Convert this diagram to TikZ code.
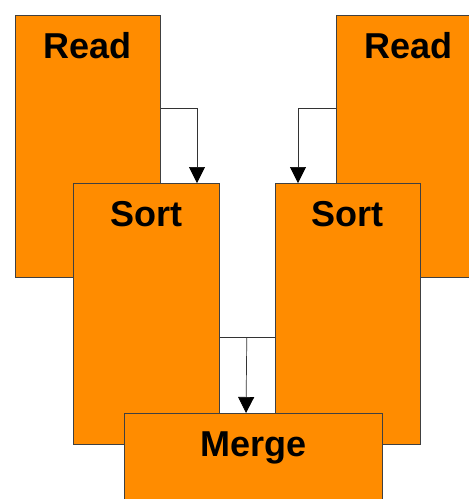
\documentclass[tikz,border=0pt]{standalone}
\usepackage{fontspec}
\setmainfont{Liberation Sans}
\usetikzlibrary{arrows.meta}
\definecolor{boxorange}{RGB}{255,140,0}
\tikzset{
  box/.style={draw=black!75, line width=0.8pt, fill=boxorange, anchor=north west, inner sep=0pt},
  lbl/.style={anchor=base, inner sep=0pt, font=\fontsize{36}{40}\selectfont\bfseries},
  conn/.style={draw=black!80, line width=0.7pt, -{Triangle[width=16pt,length=16pt,black]}},
  link/.style={draw=black!80, line width=0.7pt}
}
\begin{document}
\begin{tikzpicture}[x=1pt,y=1pt]
\useasboundingbox (0,0) rectangle (469,-499);
\clip (0,0) rectangle (469,-499);
% Read boxes
\node[box, minimum width=145pt, minimum height=262pt] (readL) at (15,-15) {};
\node[lbl] (readLt) at ([yshift=-43pt]readL.north) {Read};
\node[box, minimum width=145pt, minimum height=262pt] (readR) at (336,-15) {};
\node[lbl] (readRt) at ([yshift=-43pt]readR.north) {Read};
% Sort boxes
\node[box, minimum width=146pt, minimum height=261pt] (sortL) at (73,-183) {};
\node[lbl] (sortLt) at ([yshift=-43pt]sortL.north) {Sort};
\node[box, minimum width=145pt, minimum height=261pt] (sortR) at (275,-183) {};
\node[lbl] (sortRt) at ([yshift=-43pt]sortR.north) {Sort};
% connectors Read -> Sort
\draw[conn] ([yshift=-93pt]readL.north east) -| ([xshift=124pt]sortL.north west);
\draw[conn] ([yshift=-93pt]readR.north west) -| ([xshift=23pt]sortR.north west);
% Merge
\node[box, minimum width=258pt, minimum height=110pt] (merge) at (124,-413) {};
\node[lbl] (mergeT) at ([yshift=-43pt]merge.north) {Merge};
\draw[link] ([yshift=-154pt]sortL.north east) -- ([yshift=-154pt]sortR.north west);
\draw[conn] ([xshift=27pt,yshift=-154pt]sortL.north east) -- ([xshift=122pt]merge.north west);
\end{tikzpicture}
\end{document}
